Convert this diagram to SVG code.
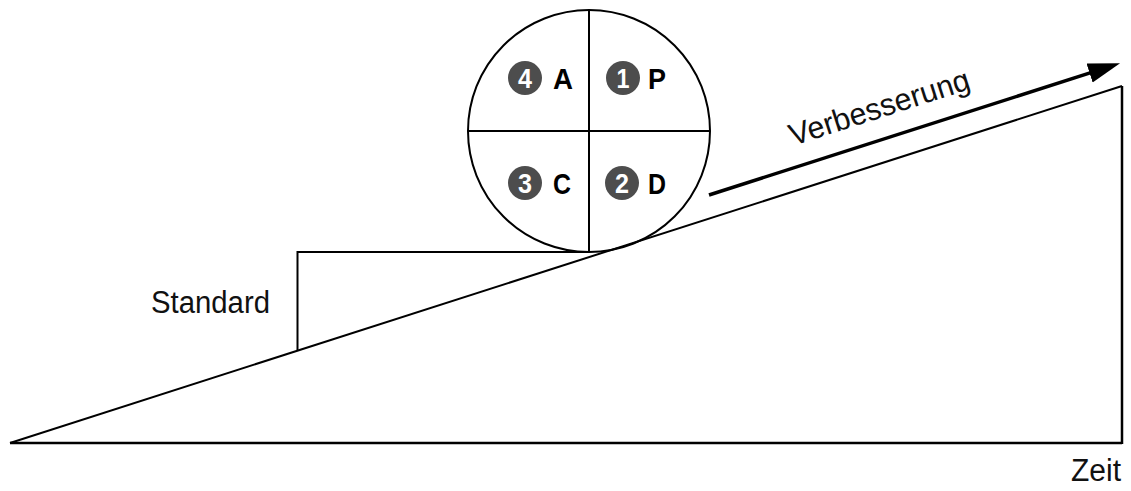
<svg xmlns="http://www.w3.org/2000/svg" width="1131" height="491" viewBox="0 0 1131 491">
  <style>
    .ln { fill: none; stroke: #000; stroke-width: 2; }
    .lbl { font-family: "Liberation Sans", Arial, sans-serif; font-size: 31px; fill: #111; }
    .badge { fill: #4d4d4d; }
    .num { font-family: "Liberation Sans", Arial, sans-serif; font-weight: bold; font-size: 27px; fill: #fff; text-anchor: middle; }
    .let { font-family: "Liberation Sans", Arial, sans-serif; font-weight: bold; font-size: 30px; fill: #000; }
  </style>
  <defs>
    <marker id="ah" markerUnits="userSpaceOnUse" markerWidth="34" markerHeight="22" refX="12" refY="10" orient="auto">
      <path d="M0,0 L32,10 L0,20 Z" fill="#000"/>
    </marker>
  </defs>
  <rect width="1131" height="491" fill="#fff"/>

  <g id="ramp">
    <line class="ln" x1="10" y1="443" x2="1122" y2="86"/>
    <line class="ln" x1="10" y1="443" x2="1122" y2="443" style="stroke-width:2.5"/>
    <line class="ln" x1="1122" y1="86" x2="1122" y2="444" style="stroke-width:2.5"/>
  </g>

  <g id="standard">
    <path class="ln" d="M589,252 H297.5 V351"/>
    <text class="lbl" x="151" y="313" textLength="119" lengthAdjust="spacingAndGlyphs">Standard</text>
  </g>

  <g id="pdca">
    <circle class="ln" cx="589" cy="131" r="121"/>
    <line class="ln" x1="468" y1="131" x2="710" y2="131"/>
    <line class="ln" x1="589" y1="10" x2="589" y2="252"/>
    <g id="p">
      <circle class="badge" cx="623" cy="78" r="17"/>
      <text class="num" x="623" y="87.5" textLength="13" lengthAdjust="spacingAndGlyphs">1</text>
      <text class="let" x="648" y="89" textLength="18" lengthAdjust="spacingAndGlyphs">P</text>
    </g>
    <g id="d">
      <circle class="badge" cx="622" cy="183" r="17"/>
      <text class="num" x="622" y="192.5" textLength="14" lengthAdjust="spacingAndGlyphs">2</text>
      <text class="let" x="648" y="194" textLength="18" lengthAdjust="spacingAndGlyphs">D</text>
    </g>
    <g id="c">
      <circle class="badge" cx="525" cy="183" r="17"/>
      <text class="num" x="525" y="192.5" textLength="14" lengthAdjust="spacingAndGlyphs">3</text>
      <text class="let" x="553" y="194" textLength="18" lengthAdjust="spacingAndGlyphs">C</text>
    </g>
    <g id="a">
      <circle class="badge" cx="525" cy="78" r="17"/>
      <text class="num" x="525" y="87.5" textLength="14" lengthAdjust="spacingAndGlyphs">4</text>
      <text class="let" x="553" y="89" textLength="20" lengthAdjust="spacingAndGlyphs">A</text>
    </g>
  </g>

  <g id="connectors">
    <line x1="709" y1="195" x2="1101" y2="69.4" stroke="#000" stroke-width="3.5" marker-end="url(#ah)"/>
  </g>

  <g id="labels">
    <text class="lbl" transform="translate(793,146) rotate(-17.8)" textLength="188" lengthAdjust="spacingAndGlyphs">Verbesserung</text>
    <text class="lbl" x="1071" y="481" textLength="50" lengthAdjust="spacingAndGlyphs">Zeit</text>
  </g>
</svg>
